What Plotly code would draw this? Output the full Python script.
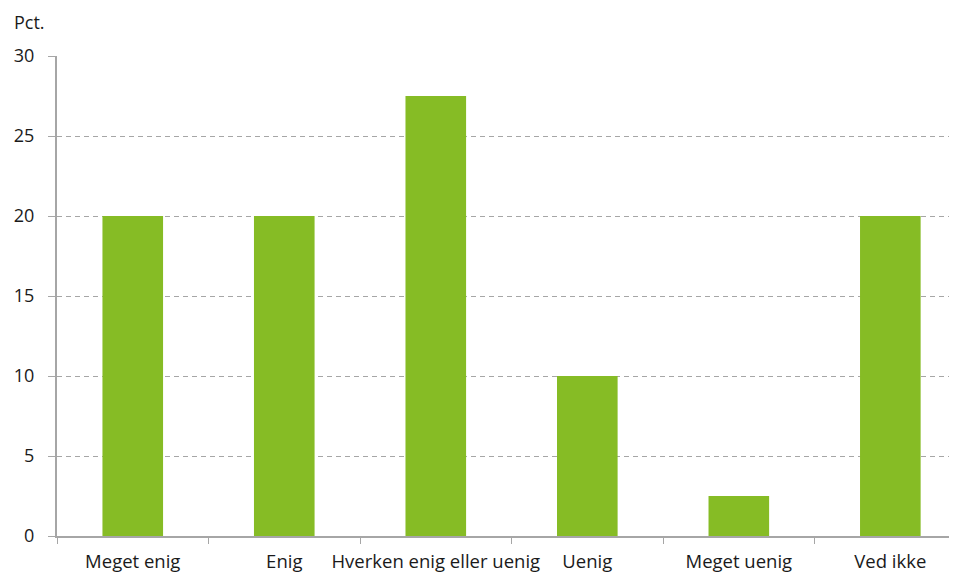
import plotly.graph_objects as go

categories = [
    "Meget enig",
    "Enig",
    "Hverken enig eller uenig",
    "Uenig",
    "Meget uenig",
    "Ved ikke",
]
values = [20, 20, 27.5, 10, 2.5, 20]
y_ticks = [0, 5, 10, 15, 20, 25, 30]

fig = go.Figure(
    go.Bar(
        x=categories,
        y=values,
        marker=dict(color="#86bc25", line=dict(width=0)),
        width=0.40,
        hoverinfo="x+y",
    )
)

# the page body has an 8px margin, so the figure is sized to fit inside it;
# the original is cropped on the right, so the x range stops short of the last boundary
fig.update_layout(
    width=949,
    height=566,
    margin=dict(l=49, r=0, t=48, b=38, autoexpand=False),
    plot_bgcolor="white",
    paper_bgcolor="white",
    font=dict(family="Open Sans", size=18, color="#1a1a1a"),
    showlegend=False,
    annotations=[
        dict(
            text="Pct.",
            xref="paper",
            yref="paper",
            x=-0.0495,
            y=1.0708,
            xanchor="left",
            yanchor="middle",
            showarrow=False,
            font=dict(size=18, color="#1a1a1a"),
        )
    ],
)

fig.update_xaxes(
    range=[-0.5, 5.44],
    showline=True,
    linecolor="#a6a6a6",
    linewidth=2,
    ticks="outside",
    tickson="boundaries",
    ticklen=6,
    tickcolor="#a6a6a6",
    tickwidth=1,
    showgrid=False,
    tickangle=0,
    automargin=False,
    tickfont=dict(size=18.5),
    ticklabelstandoff=8,
)

fig.update_yaxes(
    range=[0, 30],
    tickvals=y_ticks,
    showline=True,
    linecolor="#a6a6a6",
    linewidth=2,
    ticks="outside",
    ticklen=7,
    tickcolor="#a6a6a6",
    showgrid=True,
    gridcolor="#a6a6a6",
    griddash="5px,4px",
    gridwidth=1,
    zeroline=False,
    automargin=False,
    tickfont=dict(size=18),
    ticklabelstandoff=10,
)

fig.write_html("out.html")
